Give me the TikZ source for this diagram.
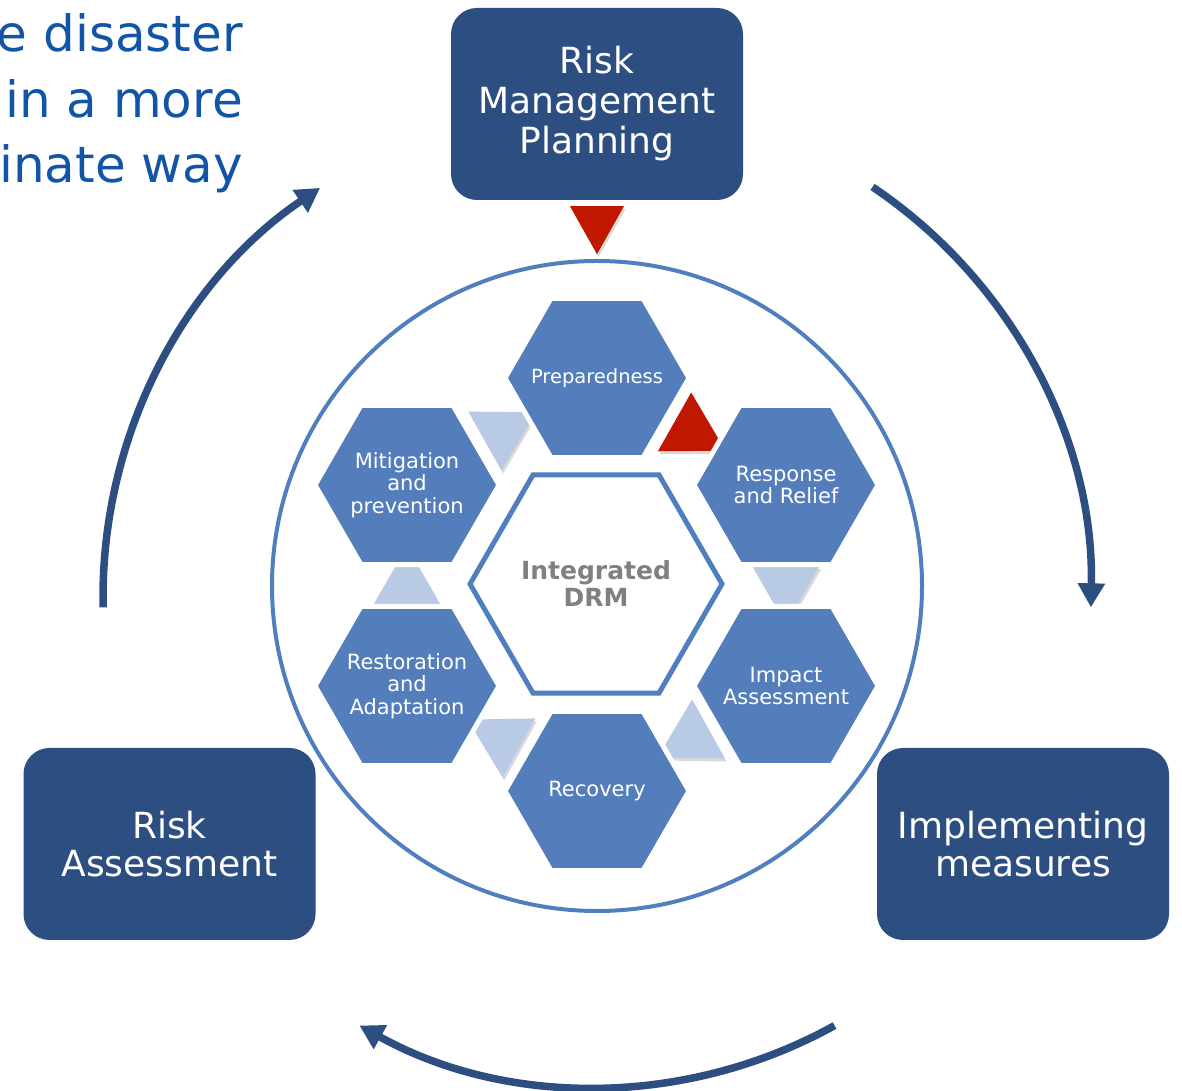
\documentclass[tikz,border=0pt]{standalone}
\usepackage{fontspec}
\setmainfont{DejaVu Sans}
\usetikzlibrary{arrows.meta}
\usetikzlibrary{calc}
\usetikzlibrary{shapes.geometric}
\usetikzlibrary{shadows, backgrounds}

\definecolor{navy}{RGB}{44,78,128}
\definecolor{hexblue}{RGB}{84,126,187}
\definecolor{ringblue}{RGB}{79,127,190}
\definecolor{palearrow}{RGB}{185,202,228}
\definecolor{redarrow}{RGB}{192,24,0}
\definecolor{introblue}{RGB}{18,84,166}

\begin{document}
\begin{tikzpicture}[x=1pt,y=1pt,
  stagebox/.style={fill=navy, rounded corners=26pt, minimum width=292pt, minimum height=192pt, text=white, align=center},
  hexcell/.style={regular polygon, regular polygon sides=6, minimum size=184pt, inner sep=0pt, fill=hexblue, draw=white, line width=5pt},
  celltext/.style={text=white, align=center, inner sep=0pt, font=\fontsize{21}{22.5}\selectfont},
  gaptri/.style={drop shadow={shadow xshift=1.5pt, shadow yshift=-3pt, opacity=0.3}},
  introline/.style={anchor=base east, inner sep=0pt, text=introblue, font=\fontsize{50}{60}\selectfont},
  cyclearrow/.style={navy, line width=7.5pt, -{Triangle[width=26pt,length=24pt]}}]

\useasboundingbox (0,0) rectangle (1182,1091);

\node[introline] (intro1) at (243,1039) {e disaster};
\node[introline] (intro2) at (243,973) {in a more};
\node[introline] (intro3) at (243,908) {inate way};

\node[stagebox, font=\fontsize{36}{40}\selectfont] (plan) at (597,987) {Risk\\Management\\Planning};
\node[stagebox, font=\fontsize{36}{38}\selectfont] (assess) at (169.5,247) {Risk\\Assessment};
\node[stagebox, font=\fontsize{36}{38}\selectfont] (implement) at (1023,247) {Implementing\\measures};

\fill[redarrow, gaptri] ($(plan.south)+(-27,-6)$) -- ($(plan.south)+(27,-6)$) -- ($(plan.south)+(0,-54)$) -- cycle;

\node[circle, draw=ringblue, line width=4pt, minimum size=650pt, inner sep=0pt] (ring) at (597,505) {};

\node[hexcell, label={[celltext, font=\fontsize{19.5}{22}\selectfont]center:Preparedness}] (prep) at (597,713) {};
\node[hexcell, label={[celltext]center:{Response\\and Relief}}] (resp) at (786,606) {};
\node[hexcell, label={[celltext]center:{Impact\\Assessment}}] (impact) at (786,405) {};
\node[hexcell, label={[celltext]center:Recovery}] (recov) at (597,300) {};
\node[hexcell, label={[celltext]center:{Restoration\\and\\Adaptation}}] (restor) at (407,405) {};
\node[hexcell, label={[celltext]center:{Mitigation\\and\\prevention}}] (mitig) at (407,606) {};

\node[regular polygon, regular polygon sides=6, minimum size=252pt, inner sep=0pt, draw=ringblue, line width=5pt, fill=white, text=gray, align=center, font=\bfseries\fontsize{25}{27}\selectfont] (drm) at (596,507) {Integrated\\DRM};

% arrow heads in the gaps of the ring
\begin{pgfonlayer}{background}
\foreach \src/\dst/\tint in {prep/resp/redarrow, resp/impact/palearrow, impact/recov/palearrow, recov/restor/palearrow, restor/mitig/palearrow, mitig/prep/palearrow}{
  \coordinate (mid) at ($(\src)!0.5!(\dst)$);
  \fill[\tint, gaptri] ($(mid)!39pt!0:(\dst)$) -- ($(mid)!39pt!120:(\dst)$) -- ($(mid)!39pt!240:(\dst)$) -- cycle;
}
\end{pgfonlayer}

\coordinate (loop) at (597,494);
\draw[cyclearrow] (loop) ++(181.2:494) arc[start angle=181.2, end angle=124.1, radius=494];
\draw[cyclearrow] (loop) ++(56.1:494) arc[start angle=56.1, end angle=-1.2, radius=494];
\draw[cyclearrow] (loop) ++(-61:490) arc[start angle=-61, end angle=-119, radius=490];

\end{tikzpicture}
\end{document}
